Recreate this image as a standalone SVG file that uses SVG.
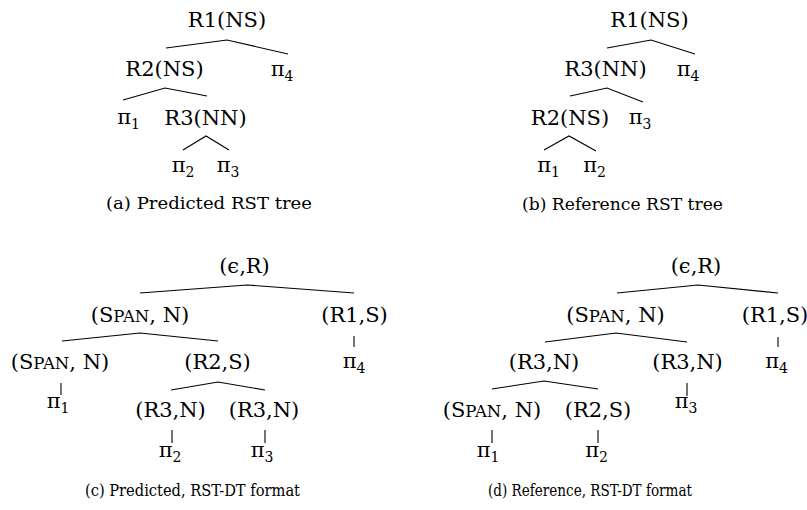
<svg xmlns="http://www.w3.org/2000/svg" width="807" height="510" viewBox="0 0 807 510">
<style>
text{fill:#000;text-anchor:middle;font-family:"DejaVu Serif","Noto Serif",serif}
.n{font-size:21px}
.p{font-size:21px}
.s{font-size:14px}
.sc{font-size:16.5px}
.cap{font-size:17px}
.e path,.e line,.e polyline{fill:none;stroke:#000;stroke-width:1.1}
</style>
<rect width="807" height="510" fill="#fff"/>
<g class="e" id="connectors">
<polyline points="166,48 227,40 288,54"/>
<polyline points="123,100 165,88 207,96"/>
<polyline points="183,150 206,136 229,150"/>
<polyline points="607,48 651,40 695,54"/>
<polyline points="570,96 607,88 643,102"/>
<polyline points="544,150 569,136 596,151"/>
<polyline points="140,293 247,285 354,293"/>
<polyline points="62,341 140,333 218,341"/>
<line x1="354" y1="336" x2="354" y2="347"/>
<line x1="61" y1="383" x2="61" y2="395"/>
<polyline points="171,390 218,382 265,390"/>
<line x1="172" y1="430" x2="172" y2="443"/>
<line x1="265" y1="430" x2="265" y2="443"/>
<polyline points="617,293 698,285 778,293"/>
<polyline points="545,342 616,333 687,342"/>
<line x1="778" y1="337" x2="778" y2="347"/>
<polyline points="492,389 544,381 598,389"/>
<line x1="687" y1="383" x2="687" y2="396"/>
<line x1="492" y1="430" x2="492" y2="443"/>
<line x1="598" y1="430" x2="598" y2="443"/>
</g>
<g id="a_R1"><text class="n" x="227" y="27">R1(NS)</text></g>
<g id="a_R2"><text class="n" x="164.5" y="76">R2(NS)</text></g>
<g id="a_pi4"><text class="p" x="282" y="76">π<tspan class="s" dy="5">4</tspan></text></g>
<g id="a_pi1"><text class="p" x="128.5" y="124">π<tspan class="s" dy="5">1</tspan></text></g>
<g id="a_R3"><text class="n" x="205.5" y="125">R3(NN)</text></g>
<g id="a_pi2"><text class="p" x="183" y="172">π<tspan class="s" dy="5">2</tspan></text></g>
<g id="a_pi3"><text class="p" x="228" y="172">π<tspan class="s" dy="5">3</tspan></text></g>
<g id="a_cap"><text class="cap" x="209" y="209" textLength="206" lengthAdjust="spacingAndGlyphs">(a)  Predicted RST tree</text></g>

<g id="b_R1"><text class="n" x="649.5" y="27">R1(NS)</text></g>
<g id="b_R3"><text class="n" x="605.5" y="76">R3(NN)</text></g>
<g id="b_pi4"><text class="p" x="688" y="76">π<tspan class="s" dy="5">4</tspan></text></g>
<g id="b_R2"><text class="n" x="570" y="125">R2(NS)</text></g>
<g id="b_pi3"><text class="p" x="640" y="124">π<tspan class="s" dy="5">3</tspan></text></g>
<g id="b_pi1"><text class="p" x="548.5" y="172">π<tspan class="s" dy="5">1</tspan></text></g>
<g id="b_pi2"><text class="p" x="594.5" y="172">π<tspan class="s" dy="5">2</tspan></text></g>
<g id="b_cap"><text class="cap" x="622.5" y="210" textLength="201" lengthAdjust="spacingAndGlyphs">(b)  Reference RST tree</text></g>

<g id="c_root"><text class="n" x="244.5" y="273">(ϵ,R)</text></g>
<g id="c_span1"><text class="n" x="140" y="322">(S<tspan class="sc">PAN</tspan>, N)</text></g>
<g id="c_R1S"><text class="n" x="354.5" y="322">(R1,S)</text></g>
<g id="c_span2"><text class="n" x="60" y="369">(S<tspan class="sc">PAN</tspan>, N)</text></g>
<g id="c_R2S"><text class="n" x="217.5" y="369">(R2,S)</text></g>
<g id="c_pi4"><text class="p" x="354" y="368">π<tspan class="s" dy="5">4</tspan></text></g>
<g id="c_pi1"><text class="p" x="58" y="408">π<tspan class="s" dy="5">1</tspan></text></g>
<g id="c_R3a"><text class="n" x="170.5" y="417">(R3,N)</text></g>
<g id="c_R3b"><text class="n" x="264" y="417">(R3,N)</text></g>
<g id="c_pi2"><text class="p" x="170" y="457">π<tspan class="s" dy="5">2</tspan></text></g>
<g id="c_pi3"><text class="p" x="262" y="457">π<tspan class="s" dy="5">3</tspan></text></g>
<g id="c_cap"><text class="cap" x="192.5" y="496" textLength="215" lengthAdjust="spacingAndGlyphs">(c) Predicted, RST-DT format</text></g>

<g id="d_root"><text class="n" x="696" y="273">(ϵ,R)</text></g>
<g id="d_span1"><text class="n" x="615.5" y="322">(S<tspan class="sc">PAN</tspan>, N)</text></g>
<g id="d_R1S"><text class="n" x="775" y="322">(R1,S)</text></g>
<g id="d_R3a"><text class="n" x="544" y="369">(R3,N)</text></g>
<g id="d_R3b"><text class="n" x="687.5" y="369">(R3,N)</text></g>
<g id="d_pi4"><text class="p" x="776.5" y="368">π<tspan class="s" dy="5">4</tspan></text></g>
<g id="d_pi3"><text class="p" x="686" y="408">π<tspan class="s" dy="5">3</tspan></text></g>
<g id="d_span2"><text class="n" x="492" y="417">(S<tspan class="sc">PAN</tspan>, N)</text></g>
<g id="d_R2S"><text class="n" x="598" y="417">(R2,S)</text></g>
<g id="d_pi1"><text class="p" x="488" y="457">π<tspan class="s" dy="5">1</tspan></text></g>
<g id="d_pi2"><text class="p" x="596.5" y="457">π<tspan class="s" dy="5">2</tspan></text></g>
<g id="d_cap"><text class="cap" x="590" y="496" textLength="204" lengthAdjust="spacingAndGlyphs">(d) Reference, RST-DT format</text></g>
</svg>
